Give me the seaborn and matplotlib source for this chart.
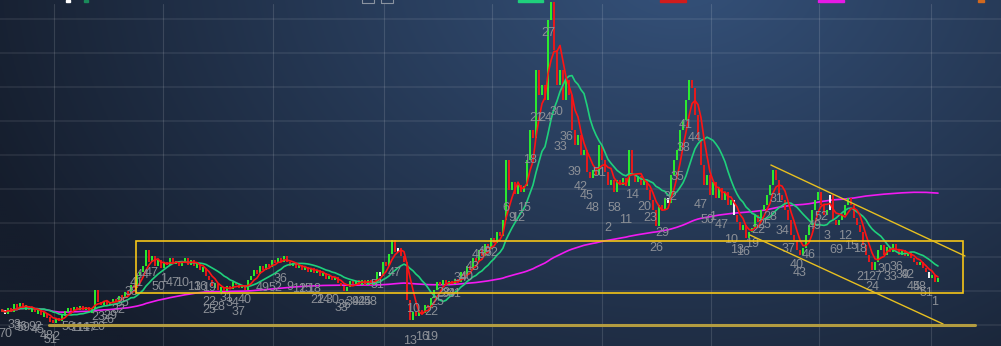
import numpy as np
import pandas as pd
import matplotlib
matplotlib.use("Agg")
import matplotlib.pyplot as plt
import seaborn as sns
from matplotlib.patches import Rectangle

# ---------------- data (price units, one value per bar) ----------------
close = [
    36, 32, 38, 34, 42, 37, 43, 38, 40, 36,
    38, 34, 36, 31, 33, 28, 26, 23, 28, 25,
    32, 34, 38, 35, 39, 36, 40, 36, 39, 35,
    37, 56, 44, 41, 45, 41, 44, 47, 44, 50,
    48, 54, 52, 61, 58, 71, 74, 80, 96, 84,
    90, 80, 86, 78, 84, 81, 88, 82, 85, 80,
    84, 88, 81, 86, 80, 82, 76, 78, 70, 66,
    60, 62, 56, 58, 55, 60, 57, 64, 61, 58,
    61, 56, 66, 70, 76, 72, 80, 76, 82, 79,
    86, 83, 88, 84, 90, 84, 80, 83, 78, 81,
    76, 79, 74, 78, 73, 76, 70, 73, 67, 70,
    66, 69, 63, 60, 55, 59, 65, 62, 65, 63,
    65, 63, 65, 63, 64, 74, 70, 84, 80, 92,
    106, 94, 98, 90, 84, 46, 26, 34, 30, 36,
    33, 41, 38, 48, 56, 64, 61, 66, 61, 65,
    62, 67, 64, 74, 70, 80, 76, 88, 84, 96,
    90, 102, 97, 108, 103, 114, 110, 126, 186, 156,
    164, 152, 161, 154, 160, 186, 216, 208, 276, 251,
    261, 246, 326, 344, 296, 261, 276, 246, 266, 251,
    216, 201, 211, 191, 196, 174, 168, 176, 171, 201,
    186, 174, 161, 166, 154, 166, 161, 168, 160, 196,
    171, 164, 170, 161, 166, 156, 146, 136, 120, 141,
    136, 148, 143, 171, 186, 196, 216, 226, 246, 266,
    258, 231, 206, 181, 161, 171, 151, 164, 148, 158,
    146, 154, 141, 146, 131, 124, 116, 121, 108, 114,
    118, 131, 124, 136, 141, 151, 161, 176, 166, 151,
    146, 136, 126, 111, 106, 96, 91, 98, 111, 121,
    136, 146, 154, 141, 131, 136, 151, 126, 121, 126,
    131, 141, 148, 141, 128, 121, 114, 101, 91, 84,
    76, 84, 96, 101, 91, 99, 94, 102, 96, 91,
    96, 90, 94, 88, 84, 81, 84, 78, 74, 68,
    71, 64, 68,
]
doji_bars = [1, 126, 132, 222, 244, 276, 309]

# swing labels: (text, bar index, price)
point_labels = [
    ("70", 1, 12), ("33", 4, 21), ("36", 6, 19), ("59", 7, 18), ("92", 11, 19),
    ("45", 12, 16), ("48", 15, 10), ("51", 16, 6), ("2", 18, 9), ("58", 22, 19),
    ("11", 25, 18), ("14", 27, 18), ("17", 29, 18), ("20", 32, 19), ("23", 32, 29),
    ("26", 35, 26), ("29", 36, 30), ("32", 39, 36), ("35", 40, 43), ("38", 43, 54),
    ("41", 45, 63), ("44", 47, 71), ("47", 50, 73), ("50", 52, 59), ("1", 54, 67),
    ("47", 57, 63), ("10", 60, 63), ("13", 64, 59), ("16", 66, 59), ("19", 69, 58),
    ("22", 69, 44), ("25", 69, 36), ("28", 72, 39), ("31", 75, 48), ("34", 77, 43),
    ("37", 79, 34), ("40", 81, 46), ("49", 87, 58), ("52", 91, 58), ("36", 93, 67),
    ("9", 96, 59), ("12", 99, 57), ("15", 101, 57), ("18", 104, 57), ("21", 105, 46),
    ("24", 107, 46), ("30", 110, 46), ("33", 113, 38), ("36", 114, 41), ("39", 117, 44),
    ("42", 119, 44), ("45", 121, 44), ("48", 123, 44), ("51", 125, 61), ("47", 131, 73),
    ("10", 137, 37), ("13", 136, 5), ("16", 140, 9), ("19", 143, 9), ("22", 143, 34),
    ("25", 145, 44), ("28", 147, 53), ("34", 149, 52), ("31", 151, 52), ("34", 153, 68),
    ("40", 155, 69), ("43", 157, 79), ("46", 159, 91), ("49", 161, 94), ("52", 163, 93),
    ("6", 168, 138), ("9", 170, 128), ("12", 172, 128), ("15", 174, 138), ("18", 176, 186),
    ("21", 178, 228), ("24", 181, 228), ("27", 182, 313), ("30", 185, 234), ("33", 186, 199),
    ("36", 188, 209), ("39", 191, 174), ("42", 193, 159), ("45", 195, 150), ("48", 197, 138),
    ("51", 199, 173), ("2", 202, 118), ("58", 204, 138), ("11", 208, 126), ("14", 210, 151),
    ("20", 214, 139), ("23", 216, 128), ("26", 218, 98), ("29", 220, 113), ("32", 223, 149),
    ("35", 225, 169), ("38", 227, 198), ("41", 228, 221), ("44", 231, 208), ("47", 233, 141),
    ("50", 235, 126), ("1", 237, 129), ("47", 240, 121), ("10", 243, 106), ("13", 245, 96),
    ("16", 247, 94), ("19", 250, 102), ("22", 252, 116), ("25", 254, 121), ("28", 256, 129),
    ("31", 258, 147), ("34", 260, 115), ("37", 262, 97), ("40", 265, 81), ("43", 266, 73),
    ("46", 269, 91), ("49", 271, 120), ("52", 273, 129), ("3", 275, 110), ("6", 277, 96),
    ("9", 279, 96), ("12", 281, 110), ("15", 283, 100), ("18", 286, 97), ("21", 287, 69),
    ("24", 290, 59), ("27", 291, 69), ("30", 294, 77), ("33", 296, 69), ("36", 298, 79),
    ("39", 300, 71), ("42", 302, 71), ("45", 304, 59), ("48", 306, 59), ("51", 308, 53),
    ("1", 311, 44),
]

# drawn objects (bar index, price)
box_bars = (44.7, 320.3)
box_prices = (53, 105)
upper_channel = ((256.3, 181), (321.0, 90))
lower_channel = ((249.3, 111), (313.7, 22))
support_line = ((15.7, 21), (324.3, 21))

# ---------------- figure ----------------
W, H = 1001, 346
sns.set_theme(style="dark")
plt.rcParams["font.family"] = ["Liberation Sans", "DejaVu Sans"]

fig = plt.figure(figsize=(W / 100, H / 100), dpi=100)
ax = fig.add_axes([0, 0, 1, 1])
x0, x1 = -2 / 3, (W - 2) / 3
ax.set_xlim(x0, x1)
ax.set_ylim(0, H)
ax.axis("off")

# background gradient
gx = np.linspace(0, 1, 500)
gy = np.linspace(0, 1, 180)
GX, GY = np.meshgrid(gx, gy)
d = np.sqrt(((GX - 0.68) / 0.75) ** 2 + ((GY + 0.1) / 1.6) ** 2)
t = np.clip(d, 0, 1)[..., None]
c_in = np.array([0x35, 0x52, 0x7b]) / 255
c_out = np.array([0x15, 0x1d, 0x2c]) / 255
img = c_in * (1 - t) + c_out * t
ax.imshow(img, extent=[x0, x1, 0, H], origin="upper", aspect="auto", zorder=0)

# grid
for h in [327, 293, 259, 225, 191, 157, 123, 89, 55, 21]:
    ax.axhline(h, color=(1, 1, 1, 0.07), lw=1.5, zorder=1)
for px in [54, 163, 273, 384, 492, 602, 711, 819, 931]:
    ax.plot([(px - 2) / 3] * 2, [0, H - 4], color=(1, 1, 1, 0.13), lw=0.8, zorder=1)

# bars
df = pd.DataFrame({"bar": np.arange(len(close)), "close": close})
df["open"] = df["close"].shift(1).fillna(df["close"].iloc[0])
lo = np.minimum(df["open"], df["close"]).to_numpy(float)
hi = np.maximum(df["open"], df["close"]).to_numpy(float)
small = (hi - lo) < 3
lo[small] -= 1.5
hi[small] += 1.5
cols = np.where(df["close"] > df["open"], "#2cf52c", "#f01818").astype(object)
for b in doji_bars:
    cols[b] = "#ffffff"
ax.vlines(df["bar"], lo, hi, colors=list(cols), lw=1.35, zorder=3)

# moving averages
df["ma_short"] = df["close"].rolling(5, min_periods=1).mean()
df["ma_mid"] = df["close"].rolling(13, min_periods=1).mean()
df["ma_long"] = df["close"].rolling(150, min_periods=1).mean()
sns.lineplot(data=df, x="bar", y="ma_long", color="#f21af2", lw=1.2, ax=ax, zorder=2)
sns.lineplot(data=df, x="bar", y="ma_mid", color="#1fd07c", lw=1.2, ax=ax, zorder=4)
sns.lineplot(data=df, x="bar", y="ma_short", color="#ff1414", lw=1.2, ax=ax, zorder=5)
ax.set_xlim(x0, x1)
ax.set_ylim(0, H)

# labels
for txt, b, p in point_labels:
    ax.text(b, p, txt, color="#8c9097", fontsize=9, ha="center", va="center", zorder=6)

# drawings
ax.add_patch(Rectangle((box_bars[0], box_prices[0]), box_bars[1] - box_bars[0],
                       box_prices[1] - box_prices[0], fill=False, ec="#f5c518", lw=1.2, zorder=7))
for (a, b) in [upper_channel, lower_channel]:
    ax.plot([a[0], b[0]], [a[1], b[1]], color="#e8c020", lw=1.0, zorder=7)
ax.plot([support_line[0][0], support_line[1][0]], [support_line[0][1], support_line[1][1]],
        color="#b39c40", lw=2.2, zorder=7)

# clipped legend stubs at the very top
for (px, w, c) in [(66, 4, "#ffffff"), (84, 4, "#1a8a5a"), (518, 25, "#1fd07c"),
                   (660, 26, "#d01c1c"), (818, 26, "#e619e6"), (978, 6, "#d2691e")]:
    fig.add_artist(Rectangle((px / W, 1 - 2 / H), w / W, 2 / H, transform=fig.transFigure,
                             color=c, zorder=10))
for px in [362, 381]:
    fig.add_artist(Rectangle((px / W, 1 - 3 / H), 12 / W, 4 / H, transform=fig.transFigure,
                             fill=False, ec="#8a93a0", lw=0.8, zorder=10))

fig.savefig("out.png", dpi=100)
